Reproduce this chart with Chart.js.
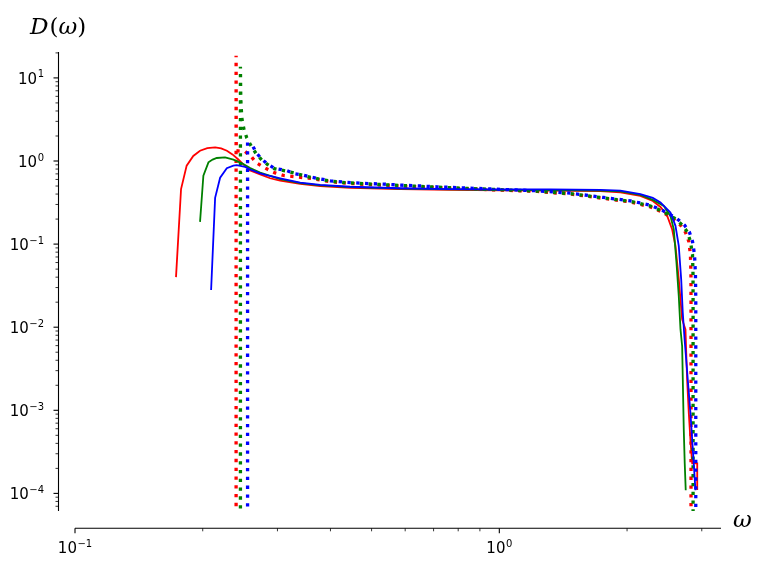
<!DOCTYPE html>
<html><head><meta charset="utf-8">
<script src="https://cdn.jsdelivr.net/npm/chart.js@4/dist/chart.umd.min.js"></script>
<style>html,body{margin:0;padding:0;background:#fff}canvas{display:block}</style>
</head><body>
<canvas id="c" width="763" height="570"></canvas>
<script>
// ---------- data (omega, D(omega)) ----------
const redSolidW = [0.1730,0.1778,0.1833,0.1900,0.1971,0.2050,0.2140,0.2210,0.2280,0.2350,0.2423,0.2500,0.2587,0.2731,0.2884,0.3044,0.3394,0.3783,0.4452,0.5841,0.7664,1.0055,1.319,1.730,1.929,2.150,2.300,2.398,2.486,2.555,2.601,2.648,2.697,2.746,2.771,2.796,2.821,2.848,2.927,2.927];
const redSolidD = [0.040,0.46,0.88,1.15,1.33,1.43,1.46,1.42,1.33,1.20,1.05,0.90,0.77,0.69,0.62,0.58,0.53,0.50,0.475,0.46,0.45,0.445,0.44,0.435,0.42,0.38,0.33,0.28,0.22,0.15,0.095,0.038,0.0124,0.0094,0.0023,9.3e-4,4.4e-4,2.3e-4,2.3e-4,1.1e-4];

const greenSolidW = [0.1971,0.2007,0.2063,0.2110,0.2158,0.2258,0.2362,0.2493,0.2587,0.2731,0.3044,0.3394,0.3783,0.4452,0.5841,0.7664,1.0055,1.319,1.730,1.929,2.150,2.300,2.441,2.531,2.577,2.615,2.648,2.673,2.697,2.721,2.735,2.750];
const greenSolidD = [0.185,0.665,0.964,1.04,1.087,1.108,1.037,0.92,0.823,0.726,0.606,0.542,0.51,0.485,0.465,0.455,0.45,0.447,0.44,0.43,0.39,0.34,0.288,0.218,0.151,0.060,0.0236,0.0094,0.0059,5.8e-4,2.3e-4,1.09e-4];

const blueSolidW = [0.2093,0.2139,0.2198,0.2279,0.2362,0.2406,0.2517,0.2587,0.2731,0.2884,0.3044,0.3394,0.3783,0.4452,0.5841,0.7664,1.0055,1.319,1.730,1.929,2.150,2.300,2.398,2.531,2.601,2.648,2.683,2.706,2.733,2.821,2.872,2.899];
const blueSolidD = [0.028,0.36,0.63,0.82,0.88,0.89,0.85,0.79,0.71,0.66,0.62,0.55,0.515,0.49,0.47,0.46,0.455,0.455,0.45,0.44,0.40,0.36,0.317,0.24,0.166,0.095,0.0376,0.015,0.0071,9.3e-4,2.3e-4,1.09e-4];

const redDotW = [0.2397,0.2397,0.2399,0.2517,0.2610,0.2670,0.2754,0.2850,0.2960,0.3100,0.3615,0.3995,0.4372,0.4786,0.5841,0.7129,0.886,1.229,1.470,1.759,2.037,2.271,2.398,2.559,2.673,2.746,2.796,2.821,2.829,2.830,2.830];
const redDotD = [1e-8,18.5,1.33,1.30,1.11,0.96,0.87,0.79,0.72,0.67,0.615,0.565,0.54,0.525,0.50,0.478,0.458,0.43,0.40,0.355,0.322,0.28,0.249,0.205,0.169,0.139,0.108,0.075,0.043,0.0216,1e-8];

const greenDotW = [0.2454,0.2454,0.2457,0.2462,0.2468,0.2475,0.2503,0.2540,0.2600,0.2680,0.2754,0.2840,0.2950,0.3157,0.3454,0.3615,0.3995,0.4372,0.4786,0.5841,0.7129,0.886,1.229,1.470,1.759,2.037,2.271,2.410,2.587,2.702,2.776,2.821,2.853,2.861,2.862,2.862];
const greenDotD = [1e-8,13.6,7.0,4.8,3.9,3.2,2.37,1.90,1.52,1.20,1.03,0.91,0.81,0.755,0.67,0.63,0.572,0.548,0.533,0.508,0.484,0.463,0.434,0.405,0.36,0.327,0.287,0.252,0.205,0.169,0.139,0.108,0.075,0.043,0.0216,1e-8];

const blueDotW = [0.2551,0.2551,0.2610,0.2670,0.2754,0.2840,0.2950,0.3157,0.3303,0.3454,0.3615,0.3995,0.4372,0.4786,0.5336,0.5841,0.6394,0.7129,0.809,0.886,1.229,1.470,1.759,2.037,2.271,2.419,2.615,2.732,2.806,2.853,2.884,2.899,2.904,2.904];
const blueDotD = [1e-8,1.60,1.60,1.27,1.057,0.92,0.816,0.765,0.70,0.675,0.636,0.578,0.553,0.538,0.527,0.513,0.503,0.489,0.476,0.468,0.438,0.411,0.364,0.332,0.293,0.256,0.205,0.169,0.139,0.108,0.075,0.043,0.0216,1e-8];

// axis ranges and tick labels
const xRange = [0.1, 3.33];
const yRange = [6.14e-5, 20.5];
const xMajor = [0.1, 1];
const xMajorExp = ['\u22121', '0'];
const yMajor = [1e-4, 1e-3, 1e-2, 1e-1, 1, 10];
const yMajorExp = ['\u22124', '\u22123', '\u22122', '\u22121', '0', '1'];
const yTitle = ['D', '(', '\u03c9', ')'];
const xTitle = '\u03c9';

const DASH = [3.3, 5.5];
const PERIOD = DASH[0] + DASH[1];

function pts(w, d) { return w.map((x, i) => ({x: x, y: d[i]})); }

function solid(label, color, w, d) {
  return {label, data: pts(w, d), borderColor: color, borderWidth: 1.8, pointRadius: 0, tension: 0, fill: false};
}
// dash offset chosen so the up-and-back trace of the vertical edge lands its dots on the same spots
function dashOffset(ctx) {
  const ys = ctx.chart.scales.y;
  const d = ctx.dataset.data;
  if (!ys || !d || d.length < 2) return 0;
  const L = Math.abs(ys.getPixelForValue(d[0].y) - ys.getPixelForValue(d[1].y));
  return (((DASH[0] / 2 - L) % PERIOD) + PERIOD) % PERIOD;
}
function dotted(label, color, w, d) {
  return {label, data: pts(w, d), borderColor: color, borderWidth: 3.3, borderDash: DASH, borderDashOffset: dashOffset, borderCapStyle: 'butt', pointRadius: 0, tension: 0, fill: false};
}

const axesPlugin = {
  id: 'mplAxes',
  afterDraw(chart) {
    const ctx = chart.ctx, a = chart.chartArea, xs = chart.scales.x, ys = chart.scales.y;
    const sx = a.left - 16.5, sy = a.bottom + 17.3;
    ctx.save();
    ctx.strokeStyle = '#000';
    ctx.lineWidth = 1.1;
    ctx.beginPath(); ctx.moveTo(sx, a.top); ctx.lineTo(sx, a.bottom); ctx.stroke();
    ctx.beginPath(); ctx.moveTo(a.left, sy); ctx.lineTo(a.right, sy); ctx.stroke();
    for (let e = -6; e <= 2; e++) {
      for (let m = 1; m <= 9; m++) {
        const v = m * Math.pow(10, e);
        if (v >= ys.min && v <= ys.max) {
          const p = ys.getPixelForValue(v);
          ctx.lineWidth = m === 1 ? 1.1 : 0.8;
          ctx.beginPath(); ctx.moveTo(sx, p); ctx.lineTo(sx - (m === 1 ? 5 : 3), p); ctx.stroke();
        }
        if (v >= xs.min && v <= xs.max) {
          const p = xs.getPixelForValue(v);
          ctx.lineWidth = m === 1 ? 1.1 : 0.8;
          ctx.beginPath(); ctx.moveTo(p, sy); ctx.lineTo(p, sy + (m === 1 ? 5 : 3)); ctx.stroke();
        }
      }
    }
    // tick labels
    ctx.fillStyle = '#000';
    ctx.textBaseline = 'alphabetic';
    const baseFont = '15px "DejaVu Sans"', supFont = '10px "DejaVu Sans"';
    function measure(exp) {
      ctx.font = baseFont; const w1 = ctx.measureText('10').width;
      ctx.font = supFont; const w2 = ctx.measureText(exp).width;
      return [w1, w2];
    }
    function drawLab(exp, x0, base) {
      const [w1] = measure(exp);
      ctx.textAlign = 'left';
      ctx.font = baseFont; ctx.fillText('10', x0, base);
      ctx.font = supFont; ctx.fillText(exp, x0 + w1 + 0.5, base - 6.5);
    }
    yMajor.forEach((v, i) => {
      const p = ys.getPixelForValue(v);
      const [w1, w2] = measure(yMajorExp[i]);
      drawLab(yMajorExp[i], 44 - w1 - w2 - 0.5, p + 6);
    });
    xMajor.forEach((v, i) => {
      const p = xs.getPixelForValue(v);
      const [w1, w2] = measure(xMajorExp[i]);
      drawLab(xMajorExp[i], p - (w1 + w2 + 0.5) / 2, 553);
    });
    // axis titles
    const it = 'italic 23px "DejaVu Serif"', up = '23px "DejaVu Serif"';
    let x = 30;
    yTitle.forEach((t, i) => {
      ctx.font = (i % 2 === 0) ? it : up;
      ctx.fillText(t, x, 33.5);
      x += ctx.measureText(t).width + (i === 0 ? 1 : 0);
    });
    ctx.font = it;
    ctx.fillText(xTitle, 733, 527);
    ctx.restore();
  }
};

new Chart(document.getElementById('c'), {
  type: 'line',
  data: {
    datasets: [
      dotted('blue dotted', '#0000ff', blueDotW, blueDotD),
      solid('blue', '#0000ff', blueSolidW, blueSolidD),
      dotted('green dotted', '#008000', greenDotW, greenDotD),
      solid('green', '#008000', greenSolidW, greenSolidD),
      dotted('red dotted', '#ff0000', redDotW, redDotD),
      solid('red', '#ff0000', redSolidW, redSolidD)
    ]
  },
  options: {
    responsive: false,
    devicePixelRatio: 1,
    animation: false,
    layout: {padding: {left: 75, right: 42, top: 52, bottom: 59}},
    plugins: {legend: {display: false}, tooltip: {enabled: false}},
    scales: {
      x: {type: 'logarithmic', min: xRange[0], max: xRange[1], display: false},
      y: {type: 'logarithmic', min: yRange[0], max: yRange[1], display: false}
    }
  },
  plugins: [axesPlugin]
});
</script>
</body></html>
